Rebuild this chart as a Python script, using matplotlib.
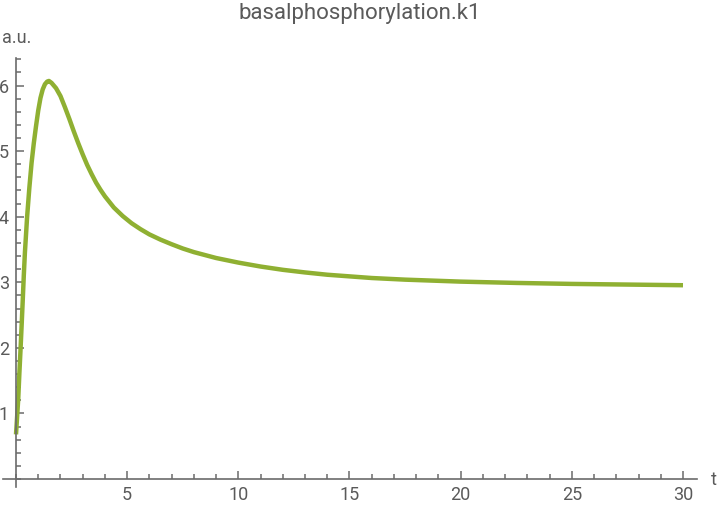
import matplotlib
matplotlib.use('Agg')
import matplotlib.pyplot as plt
from matplotlib.ticker import MultipleLocator

plt.rcParams['font.family'] = ['Roboto', 'DejaVu Sans']

# values
t = [0, 0.05, 0.1, 0.15, 0.2, 0.25, 0.3, 0.35, 0.4, 0.5, 0.6, 0.7, 0.8, 0.9, 1.0,
     1.1, 1.2, 1.3, 1.4, 1.48, 1.6, 1.8, 2.0, 2.2, 2.4, 2.6, 2.8, 3.0, 3.2, 3.4,
     3.6, 3.8, 4.0, 4.4, 4.8, 5.2, 5.6, 6.0, 6.5, 7.0, 7.5, 8.0, 9, 10, 11, 12,
     13, 14, 15, 16, 17.5, 20, 22.5, 25, 27.5, 30]
y = [0.68, 0.95, 1.22, 1.6, 1.95, 2.32, 2.7, 3.1, 3.45, 4.0, 4.44, 4.82, 5.12, 5.38, 5.62,
     5.81, 5.94, 6.02, 6.06, 6.07, 6.04, 5.96, 5.84, 5.67, 5.49, 5.30, 5.12, 4.95, 4.79, 4.65,
     4.52, 4.41, 4.31, 4.14, 4.01, 3.90, 3.81, 3.73, 3.65, 3.58, 3.515, 3.46, 3.37, 3.30, 3.24, 3.19,
     3.15, 3.115, 3.09, 3.065, 3.04, 3.01, 2.99, 2.975, 2.965, 2.955]

title = 'basalphosphorylation.k1'
ylabel = 'a.u.'
xlabel = 't'

W, H = 720, 509
fig = plt.figure(figsize=(W / 100, H / 100), dpi=100)
ax = fig.add_axes([3 / W, (H - 487) / H, (697 - 3) / W, (487 - 58) / H])

ax.plot(t, y, color='#8fb032', lw=3.2, solid_capstyle='butt', solid_joinstyle='round')

ax.set_xlim(-0.585, 30.63)
ax.set_ylim(-0.122, 6.42)

for s in ['top', 'right']:
    ax.spines[s].set_visible(False)
ax.spines['left'].set_position(('data', 0))
ax.spines['bottom'].set_position(('data', 0))
for s in ['left', 'bottom']:
    ax.spines[s].set_color('#6b6b6b')
    ax.spines[s].set_linewidth(1.2)

ax.xaxis.set_minor_locator(MultipleLocator(1))
ax.yaxis.set_minor_locator(MultipleLocator(0.2))
ax.set_xticks([5, 10, 15, 20, 25, 30])
ax.set_yticks([1, 2, 3, 4, 5, 6])

ax.tick_params(which='both', direction='in', color='#6b6b6b', width=1.1,
               labelcolor='#5a5a5a', labelsize=13)
ax.tick_params(which='major', length=6)
ax.tick_params(which='minor', length=3.5)
ax.tick_params(axis='y', which='major', pad=5)
ax.tick_params(axis='x', which='major', pad=5)

fig.text(0.5, 1 - 13 / H, title, ha='center', va='center', fontsize=16, color='#5a5a5a')
fig.text(2 / W, 1 - 38 / H, ylabel, ha='left', va='center', fontsize=13, color='#5a5a5a')
fig.text(714 / W, 1 - 480 / H, xlabel, ha='center', va='center', fontsize=13, color='#5a5a5a')

fig.savefig('out.png', dpi=100)
